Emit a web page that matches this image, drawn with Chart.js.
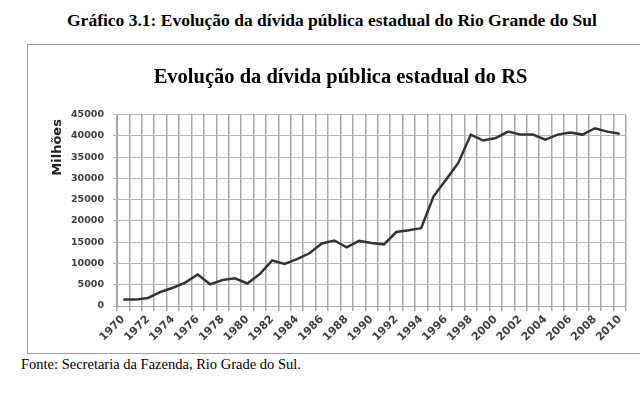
<!DOCTYPE html>
<html>
<head>
<meta charset="utf-8">
<script src="https://cdn.jsdelivr.net/npm/chart.js@4"></script>
<style>
  html, body { margin: 0; padding: 0; background: #fff; width: 640px; height: 393px; overflow: hidden; position: relative; }
  #outerTitle { position: absolute; left: 67px; top: 10px; font-family: "Liberation Serif", "Times New Roman", serif; font-weight: bold; font-size: 17.5px; color: #000; white-space: nowrap; }
  #frame { position: absolute; left: 27px; top: 44px; width: 640px; height: 308px; border: 1px solid #9a9a9a; box-sizing: content-box; }
  #chart { position: absolute; left: 28px; top: 45px; }
  #footer { position: absolute; left: 21px; top: 356px; font-family: "Liberation Serif", "Times New Roman", serif; font-size: 14.5px; color: #000; white-space: nowrap; }
</style>
</head>
<body>
<div id="outerTitle">Gráfico 3.1: Evolução da dívida pública estadual do Rio Grande do Sul</div>
<div id="frame"></div>
<canvas id="chart" width="625" height="307"></canvas>
<div id="footer">Fonte: Secretaria da Fazenda, Rio Grade do Sul.</div>
<script>
const years = ["1970","1971","1972","1973","1974","1975","1976","1977","1978","1979",
  "1980","1981","1982","1983","1984","1985","1986","1987","1988","1989",
  "1990","1991","1992","1993","1994","1995","1996","1997","1998","1999",
  "2000","2001","2002","2003","2004","2005","2006","2007","2008","2009","2010"];
const debt = [1500,1500,1900,3300,4300,5500,7400,5100,6100,6500,
  5300,7500,10700,9900,11000,12400,14700,15400,13800,15300,
  14800,14500,17400,17800,18300,25800,29700,33700,40300,38900,
  39500,41000,40300,40300,39100,40300,40800,40300,41800,41000,40500];
const yTicks = [0,5000,10000,15000,20000,25000,30000,35000,40000,45000];
const chartTitle = "Evolução da dívida pública estadual do RS";
const yTitle = "Milhões";

new Chart(document.getElementById('chart'), {
  type: 'line',
  data: {
    labels: years,
    datasets: [{
      data: debt,
      borderColor: '#333333',
      borderWidth: 2.5,
      pointRadius: 0,
      tension: 0,
      fill: false
    }]
  },
  options: {
    responsive: false,
    animation: false,
    layout: { padding: 0 },
    plugins: {
      legend: { display: false },
      tooltip: { enabled: false },
      title: {
        display: true,
        text: chartTitle,
        color: '#000',
        font: { family: "'Liberation Serif', 'Times New Roman', serif", size: 20.5, weight: 'bold' },
        padding: { top: 20, bottom: 25 }
      }
    },
    scales: {
      x: {
        offset: true,
        grid: { display: true, offset: true, color: '#a8a8a8', lineWidth: 1.5, tickLength: 5 },
        border: { color: '#a6a6a6' },
        ticks: {
          autoSkip: false,
          maxRotation: 45,
          minRotation: 45,
          padding: 2,
          color: '#404040',
          font: { family: "'DejaVu Sans'", size: 11, weight: 'bold' },
          callback: function(v, i) { return i % 2 === 0 ? years[i] : ''; }
        },
        afterFit: function(s) { s.height = 46; }
      },
      y: {
        min: 0,
        max: 45000,
        afterBuildTicks: function(s) { s.ticks = yTicks.map(v => ({ value: v })); },
        grid: { color: '#b8b8b8', lineWidth: 1, tickLength: 4 },
        border: { color: '#a6a6a6' },
        ticks: {
          padding: 9,
          color: '#404040',
          font: { family: "'DejaVu Sans'", size: 9.5, weight: 'bold' },
          callback: function(v) { return String(v); }
        },
        title: {
          display: true,
          text: yTitle + ' ',
          align: 'end',
          color: '#222',
          font: { family: "'DejaVu Sans'", size: 13, weight: 'bold' },
          padding: { top: 22, bottom: 0 }
        },
        afterFit: function(s) { s.width = 89; }
      },
      yRight: {
        position: 'right',
        display: true,
        grid: { display: false },
        border: { display: false },
        ticks: { display: false },
        afterFit: function(s) { s.width = 27; }
      }
    }
  }
});
</script>
</body>
</html>
